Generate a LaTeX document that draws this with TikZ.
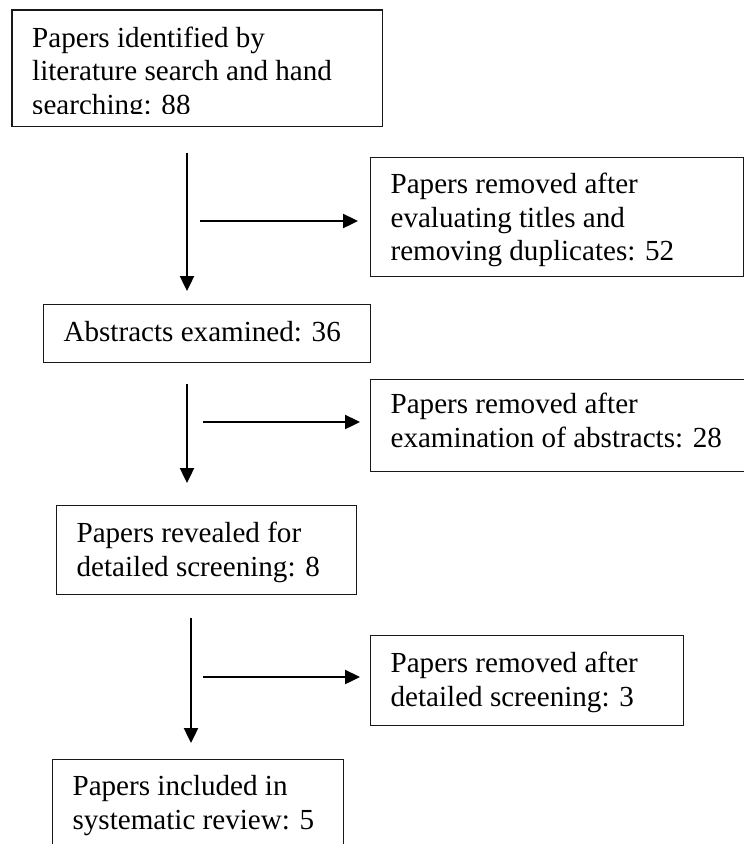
\documentclass[tikz,border=0pt]{standalone}
\usepackage{fontspec}
\setmainfont{Liberation Serif}
\usetikzlibrary{arrows.meta}
\newcommand{\boxtext}[5]{\parbox[c][#2pt][t]{#1pt}{\leftskip=20pt\relax\rule{0pt}{#3pt}#4\par}}
\tikzset{
  boxline/.style={draw=black!90, line width=1.2pt},
  boxst/.style={boxline, inner sep=0pt, anchor=north west, font=\fontsize{29.1}{33.5}\selectfont},
  textst/.style={inner sep=0pt, anchor=north west, font=\fontsize{29.1}{33.5}\selectfont},
  arr/.style={line width=2.4pt, -{Triangle[length=15pt,width=14pt]}}
}
\begin{document}
\begin{tikzpicture}[x=1pt,y=-1pt]
\useasboundingbox (0,0) rectangle (744,844);
% first box: its last line is clipped by the frame's inner area
\begin{scope}
  \clip (0,0) rectangle (744,113.6);
  \node[textst] (b1) at (12,10) {\boxtext{370}{116}{37}{Papers identified by\\literature search and hand\\searching: 88}{}};
\end{scope}
\draw[boxline] (b1.north west) rectangle (b1.south east);

\node[boxst] (b2) at (370,157) {\boxtext{373}{119}{36}{Papers removed after\\evaluating titles and\\removing duplicates: 52}{}};
\node[boxst] (b3) at (43,304) {\boxtext{327}{58}{37}{Abstracts examined: 36}{}};
\node[boxst] (b4) at (370,379) {\boxtext{384}{92}{34}{Papers removed after\\examination of abstracts: 28}{}};
\node[boxst] (b5) at (56,505) {\boxtext{300}{89}{37}{Papers revealed for\\detailed screening: 8}{}};
\node[boxst] (b6) at (370,635) {\boxtext{313}{90}{37}{Papers removed after\\detailed screening: 3}{}};
\node[boxst] (b7) at (52,759) {\boxtext{291}{100}{36}{Papers included in\\systematic review: 5}{}};

% arrow end points
\coordinate (v1s) at (187,153);
\coordinate (v1e) at (187,291);
\coordinate (h1s) at (200,221);
\coordinate (h1e) at (358,221);
\coordinate (v2s) at (187,384);
\coordinate (v2e) at (187,483);
\coordinate (h2s) at (203,422);
\coordinate (h2e) at (360,422);
\coordinate (v3s) at (191,618);
\coordinate (v3e) at (191,743);
\coordinate (h3s) at (203,677);
\coordinate (h3e) at (360,677);

\draw[arr] (v1s) -- (v1e);
\draw[arr] (h1s) -- (h1e);
\draw[arr] (v2s) -- (v2e);
\draw[arr] (h2s) -- (h2e);
\draw[arr] (v3s) -- (v3e);
\draw[arr] (h3s) -- (h3e);
\end{tikzpicture}
\end{document}
